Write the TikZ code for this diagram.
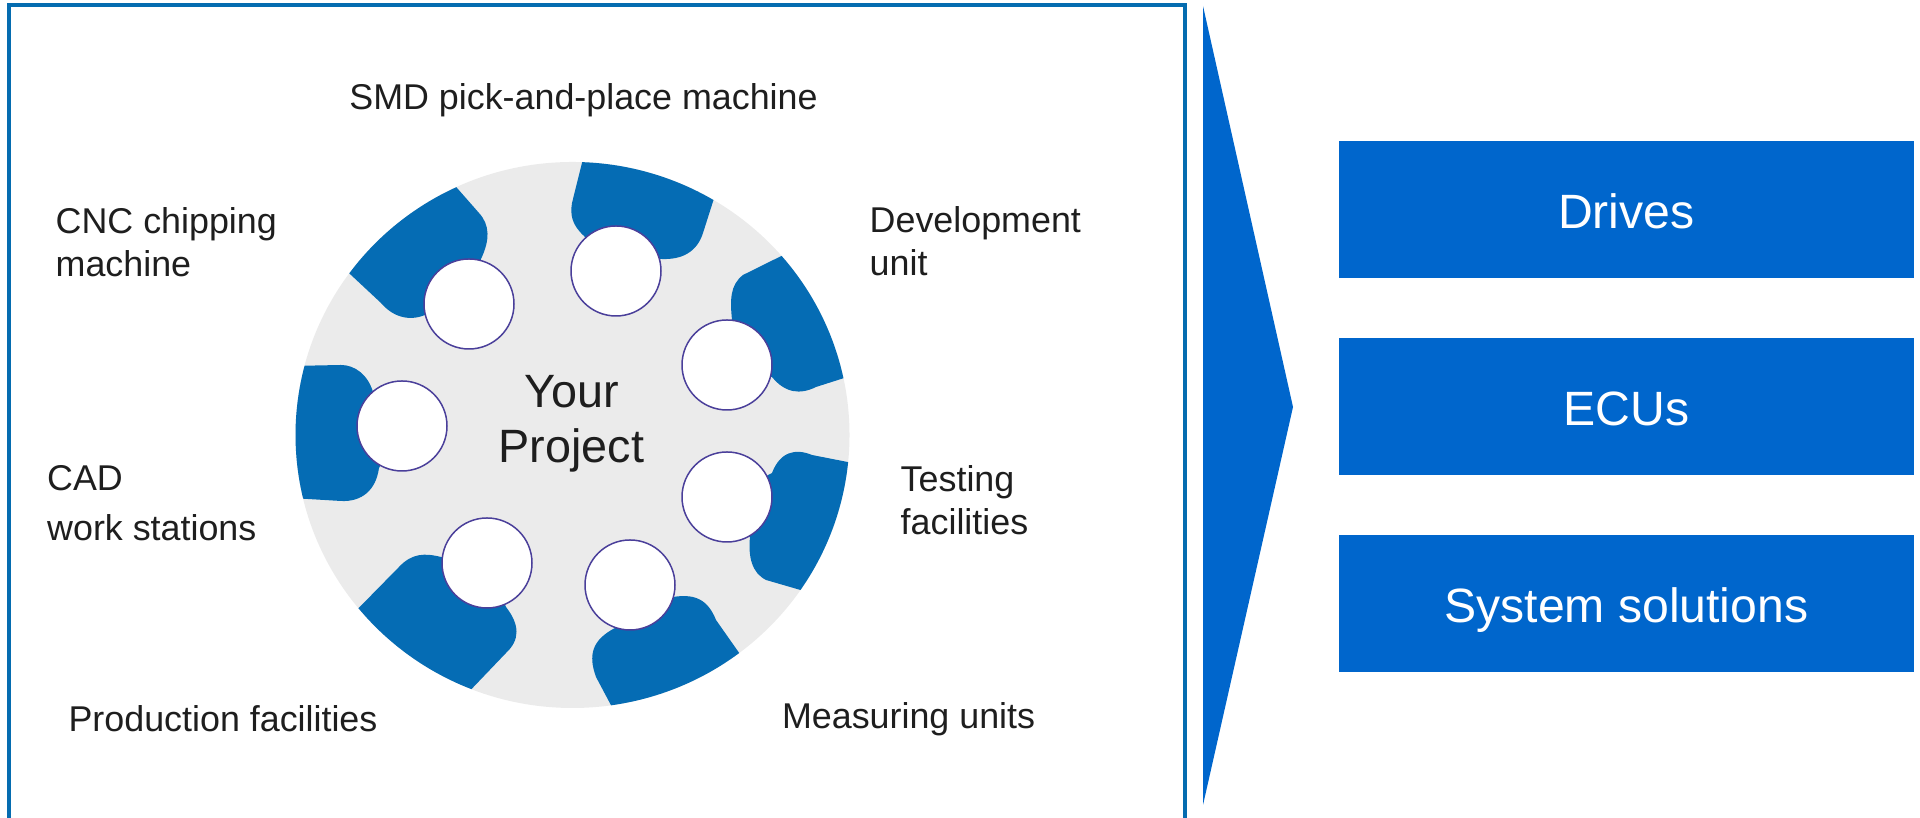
\documentclass[tikz,border=0pt]{standalone}
\usepackage{fontspec}
\setmainfont{Liberation Sans}
\usetikzlibrary{calc}
\definecolor{framecol}{HTML}{056CB0}
\definecolor{seatcol}{HTML}{056CB4}
\definecolor{boxcol}{HTML}{0066CC}
\definecolor{hubcol}{HTML}{EBEBEB}
\definecolor{pegcol}{HTML}{4A3F9A}
\definecolor{labelcol}{HTML}{1E1E1E}
\tikzset{
	seat/.style={fill=seatcol},
	peg/.style={draw=pegcol,line width=0.15mm,fill=white},
	station/.style={text=labelcol,font=\fontsize{10.2}{12.3}\selectfont,align=left,anchor=west,inner sep=0pt},
	offer/.style={fill=boxcol,text=white,font=\fontsize{13.7}{16}\selectfont,minimum width=5.755cm,minimum height=1.37cm,inner sep=0pt,text height=0.41cm,text depth=0.03cm}
}
\def\seatarc(#1:#2)#3{\fill[seat] ($(hub)+(#1:2.77 and 2.73)$) arc (#1:#2:2.77 and 2.73) #3;}

\begin{document}
\begin{tikzpicture}
	%%%%% START %%%%%
	\useasboundingbox (0, 0) rectangle (19.2, 8.18);
	
	\draw[framecol, line width=0.4mm] (0.085, 0) -- (0.085, 8.125) -- (11.85, 8.125) -- (11.85, 0);
	\fill[boxcol] (12.03, 8.12) -- (12.93, 4.11) -- (12.03, 0.13) -- cycle;
	
	\coordinate (hub) at (5.725, 3.83);
	\fill[hubcol] (hub) ellipse (2.77 and 2.73);
	
	\seatarc(88:59.4){-- (7.03, 5.85) .. controls (6.97, 5.66) and (6.82, 5.58) .. (6.61, 5.59) -- (6.16, 5.47) -- (5.84, 5.82) .. controls (5.72, 5.93) and (5.70, 6.03) .. (5.72, 6.15) -- cycle}
	\seatarc(114.8:143.7){-- (3.81, 5.15) .. controls (3.92, 5.02) and (4.08, 4.96) .. (4.25, 5.03) -- (4.69, 5.14) -- (4.81, 5.59) .. controls (4.90, 5.78) and (4.90, 5.93) .. (4.79, 6.05) -- cycle}
	\seatarc(41:12){-- (8.16, 4.31) .. controls (8.00, 4.23) and (7.85, 4.25) .. (7.72, 4.41) -- (7.27, 4.53) -- (7.32, 4.98) .. controls (7.30, 5.18) and (7.30, 5.33) .. (7.43, 5.43) -- cycle}
	\seatarc(165.3:193.5){-- (3.41, 3.17) .. controls (3.62, 3.16) and (3.76, 3.28) .. (3.79, 3.50) -- (4.02, 3.92) -- (3.73, 4.26) .. controls (3.68, 4.43) and (3.55, 4.53) .. (3.41, 4.53) -- cycle}
	\seatarc(-5.7:-34.6){-- (7.66, 2.38) .. controls (7.52, 2.45) and (7.48, 2.61) .. (7.50, 2.81) -- (7.27, 3.21) -- (7.72, 3.45) .. controls (7.80, 3.66) and (7.95, 3.70) .. (8.12, 3.63) -- cycle}
	\seatarc(-53:-82){-- (5.96, 1.41) .. controls (5.88, 1.63) and (5.92, 1.78) .. (6.15, 1.90) -- (6.29, 2.33) -- (6.68, 2.20) .. controls (6.95, 2.26) and (7.08, 2.18) .. (7.16, 1.98) -- cycle}
	\seatarc(-111.4:-140.6){-- (3.99, 2.51) .. controls (4.12, 2.65) and (4.25, 2.65) .. (4.41, 2.61) -- (4.87, 2.55) -- (5.06, 2.11) .. controls (5.20, 1.93) and (5.20, 1.78) .. (5.06, 1.65) -- cycle}
	
	\draw[peg] (6.16, 5.47) circle (0.45);
	\draw[peg] (4.69, 5.14) circle (0.45);
	\draw[peg] (7.27, 4.53) circle (0.45);
	\draw[peg] (4.02, 3.92) circle (0.45);
	\draw[peg] (7.27, 3.21) circle (0.45);
	\draw[peg] (4.87, 2.55) circle (0.45);
	\draw[peg] (6.30, 2.33) circle (0.45);
	
	\node[text=labelcol, font=\fontsize{13.3}{15.6}\selectfont, align=center, inner sep=0pt] (project) at (5.715, 3.94) {Your\\Project};
	
	\node[station, anchor=center] (smd) at (5.835, 7.18) {SMD pick-and-place machine};
	\node[station] (cnc) at (0.55, 5.76) {CNC chipping\\machine};
	\node[station] (development) at (8.69, 5.77) {Development\\unit};
	\node[station] (testing) at (9.00, 3.18) {Testing\\facilities};
	\node[station, font=\fontsize{10.2}{14.2}\selectfont] (cad) at (0.465, 3.15) {CAD\\work stations};
	\node[station, anchor=center] (measuring) at (9.086, 0.99) {Measuring units};
	\node[station, anchor=center] (production) at (2.23, 0.99) {Production facilities};
	
	\node[offer] (drives) at (16.263, 6.085) {Drives};
	\node[offer] (ecus) at (16.263, 4.115) {ECUs};
	\node[offer] (solutions) at (16.263, 2.145) {System solutions};
	%%%%% END %%%%%
\end{tikzpicture}
\end{document}
